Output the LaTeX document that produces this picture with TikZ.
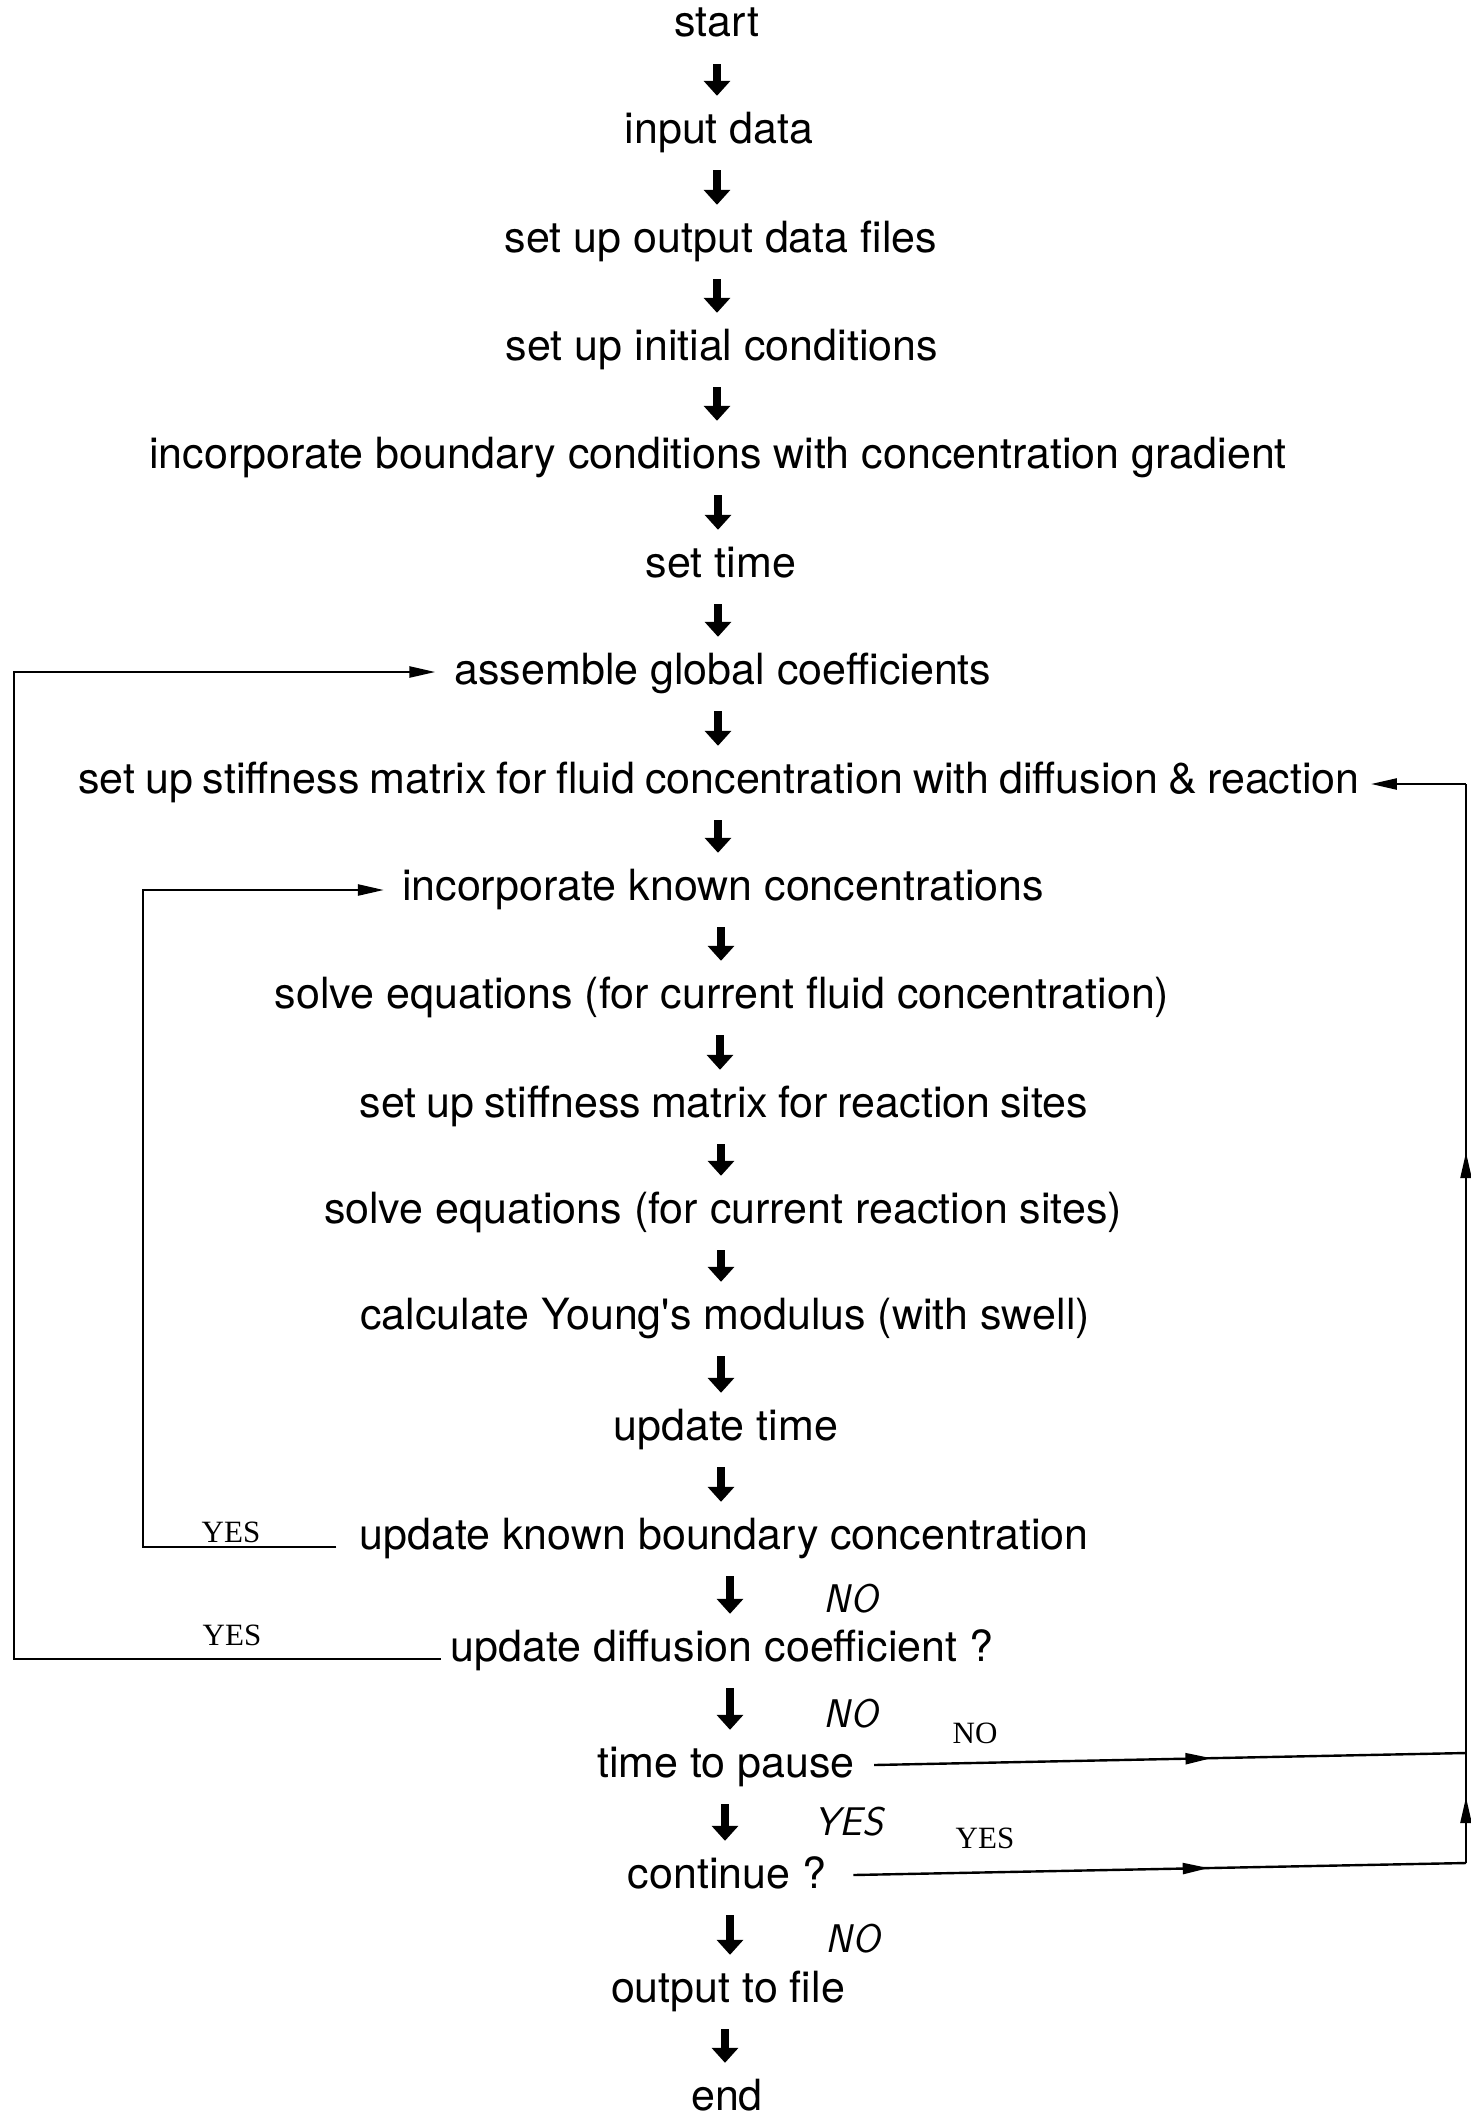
\documentclass[tikz,border=0pt]{standalone}
\usepackage{fontspec}
\setmainfont{TeX Gyre Heros}
\newfontfamily\yesfont{Liberation Serif}
\usetikzlibrary{arrows.meta,decorations.markings}
\newcommand\mytightspace{\spaceskip=10pt plus 2pt minus 2pt\relax}
\tikzset{
  stepnode/.style={anchor=base, inner sep=0pt, text height=32pt, text depth=9pt,
    font=\fontsize{43}{50}\selectfont},
  bigarrow/.style={line width=8pt, -{Triangle[length=15pt,width=26pt]},
    shorten <=18pt, shorten >=15pt},
  loopline/.style={line width=2.4pt},
  looptip/.style={-{Triangle[length=26pt,width=11pt]}},
  midarr/.style={postaction={decorate}, decoration={markings,
    mark=at position #1 with {\arrow{Triangle[length=26pt,width=11pt]}}}},
  seriflabel/.style={anchor=base, inner sep=0pt, font=\yesfont\fontsize{31}{36}\selectfont},
  handlabel/.style={anchor=base, inner sep=0pt, font=\sffamily\itshape\fontsize{40}{46}\selectfont}
}
\begin{document}
\begin{tikzpicture}[x=1pt,y=-1pt]
\useasboundingbox (0,0) rectangle (1470,2117);
\node[stepnode] (n1) at (717,37) {start};
\node[stepnode] (n2) at (719,143) {input data};
\node[stepnode] (n3) at (721,252) {set up output data files};
\node[stepnode] (n4) at (722,360) {set up initial conditions};
\node[stepnode] (n5) at (718,468) {incorporate boundary conditions with concentration gradient};
\node[stepnode] (n6) at (721,577) {set time};
\node[stepnode] (n7) at (723,684) {assemble global coefficients};
\node[stepnode] (n8) at (719,793) {\mytightspace set up stiffness matrix for fluid concentration with diffusion \& reaction};
\node[stepnode] (n9) at (723,900) {incorporate known concentrations};
\node[stepnode] (n10) at (722,1008) {solve equations (for current fluid concentration)};
\node[stepnode] (n11) at (724,1117) {\mytightspace set up stiffness matrix for reaction sites};
\node[stepnode] (n12) at (723,1223) {solve equations (for current reaction sites)};
\node[stepnode] (n13) at (725,1329) {calculate Young\textquotesingle s modulus (with swell)};
\node[stepnode] (n14) at (726,1440) {update time};
\node[stepnode] (n15) at (724,1549) {update known boundary concentration};
\node[stepnode] (n16) at (722,1661) {update diffusion coefficient ?};
\node[stepnode] (n17) at (726,1777) {time to pause};
\node[stepnode] (n18) at (727,1888) {continue ?};
\node[stepnode] (n19) at (728,2002) {output to file};
\node[stepnode] (n20) at (727,2110) {end};
% main flow arrows
\draw[bigarrow] (n1.south -| 717,0) -- (n2.north -| 717,0);
\draw[bigarrow] (n2.south -| 717,0) -- (n3.north -| 717,0);
\draw[bigarrow] (n3.south -| 717,0) -- (n4.north -| 717,0);
\draw[bigarrow] (n4.south -| 717,0) -- (n5.north -| 717,0);
\draw[bigarrow] (n5.south -| 718,0) -- (n6.north -| 718,0);
\draw[bigarrow] (n6.south -| 718,0) -- (n7.north -| 718,0);
\draw[bigarrow] (n7.south -| 718,0) -- (n8.north -| 718,0);
\draw[bigarrow] (n8.south -| 718,0) -- (n9.north -| 718,0);
\draw[bigarrow] (n9.south -| 721,0) -- (n10.north -| 721,0);
\draw[bigarrow] (n10.south -| 720,0) -- (n11.north -| 720,0);
\draw[bigarrow] (n11.south -| 721,0) -- (n12.north -| 721,0);
\draw[bigarrow] (n12.south -| 721,0) -- (n13.north -| 721,0);
\draw[bigarrow] (n13.south -| 721,0) -- (n14.north -| 721,0);
\draw[bigarrow] (n14.south -| 721,0) -- (n15.north -| 721,0);
\draw[bigarrow] (n15.south -| 730,0) -- (n16.north -| 730,0);
\draw[bigarrow] (n16.south -| 730,0) -- (n17.north -| 730,0);
\draw[bigarrow] (n17.south -| 725,0) -- (n18.north -| 725,0);
\draw[bigarrow] (n18.south -| 730,0) -- (n19.north -| 730,0);
\draw[bigarrow] (n19.south -| 725,0) -- (n20.north -| 725,0);
% left loops
\coordinate (lt) at (14,672);
\coordinate (lt2) at (143,890);
\draw[loopline, looptip] ([xshift=-10pt,yshift=2pt]n16.base west) -| (lt) -- ([xshift=-19pt,yshift=12pt]n7.base west);
\draw[loopline, looptip] ([xshift=-23pt,yshift=2pt]n15.base west) -| (lt2) -- ([xshift=-18pt,yshift=10pt]n9.base west);
% right loop
\coordinate (rb) at (1466,1863);
\coordinate (rj) at (1466,1753);
\coordinate (rt) at (1466,784);
\draw[loopline, midarr=0.58] ([xshift=27pt,yshift=13pt]n18.base east) -- (rb);
\draw[loopline, midarr=0.57] ([xshift=19pt,yshift=12pt]n17.base east) -- (rj);
\draw[loopline, midarr=0.6] (rb) -- (rj);
\draw[loopline, midarr=0.62] (rj) -- (rt);
\draw[loopline, looptip] (rt) -- ([xshift=11pt,yshift=9pt]n8.base east);
% labels
\node[seriflabel] (yes1) at (231,1542) {YES};
\node[seriflabel] (yes2) at (232,1645) {YES};
\node[seriflabel] (no1) at (975,1743) {NO};
\node[seriflabel] (yes3) at (985,1848) {YES};
\node[handlabel] (hno1) at (851,1612) {NO};
\node[handlabel] (hno2) at (851,1727) {NO};
\node[handlabel] (hyes) at (849,1835) {YES};
\node[handlabel] (hno3) at (853,1952) {NO};
\end{tikzpicture}
\end{document}
